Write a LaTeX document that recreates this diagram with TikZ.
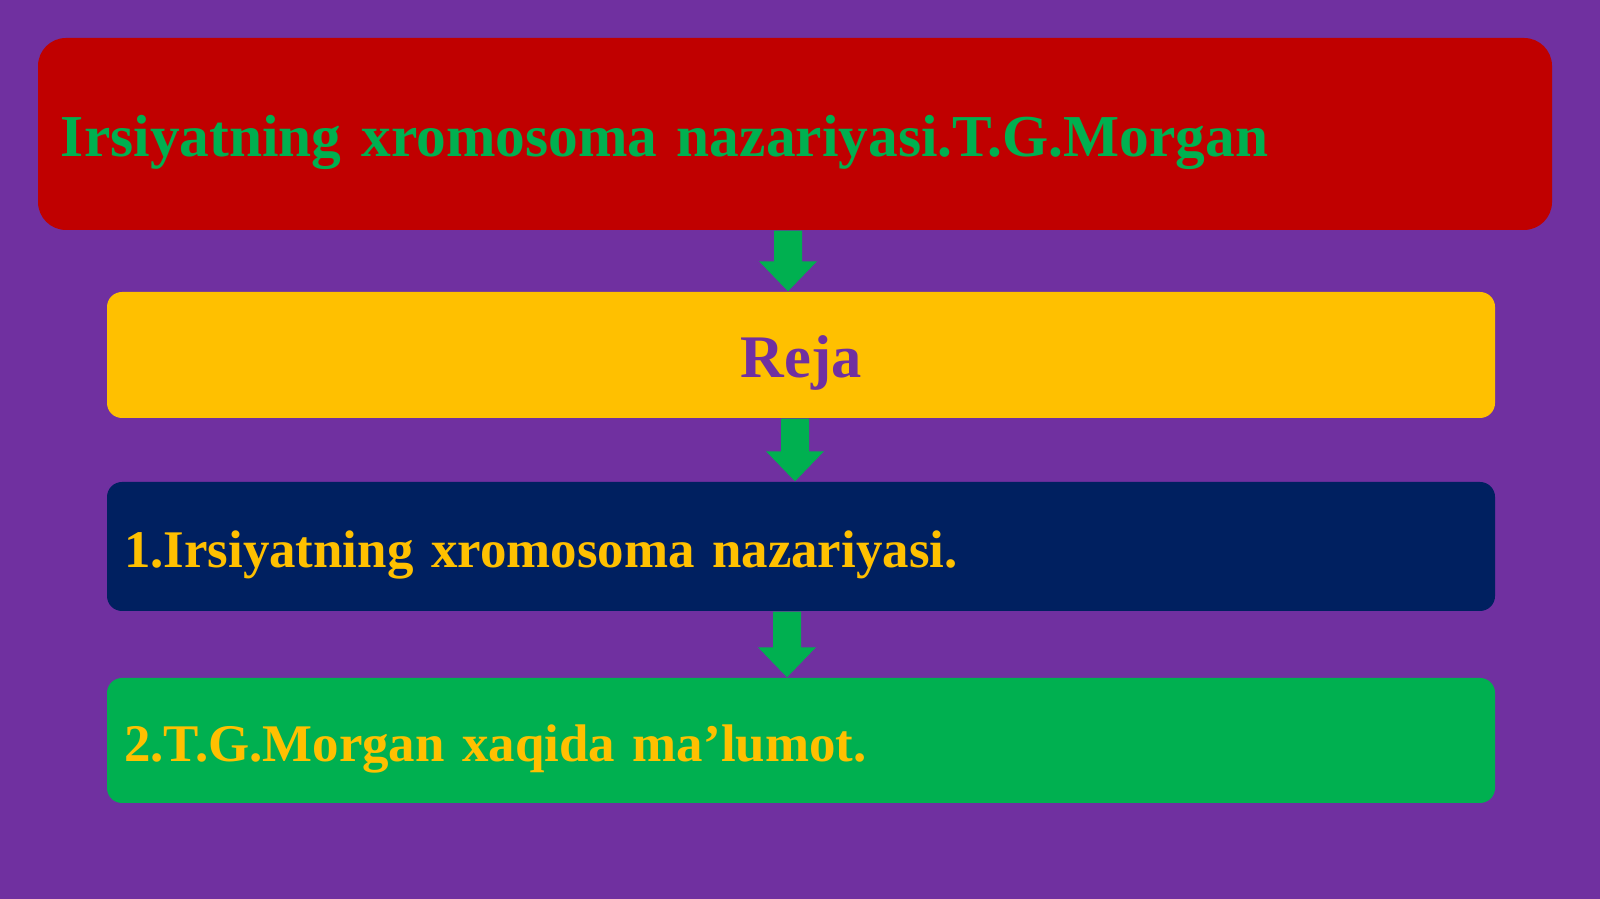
\documentclass[tikz,border=0pt]{standalone}
\usepackage{fontspec}
\setmainfont{Liberation Serif}
\usetikzlibrary{calc, positioning}

\definecolor{bgpurple}{HTML}{7030A0}
\definecolor{boxred}{HTML}{C00000}
\definecolor{boxyellow}{HTML}{FFC000}
\definecolor{boxnavy}{HTML}{002060}
\definecolor{boxgreen}{HTML}{00B050}

% block arrow pointing down, from #1 to the level of #2
\newcommand{\blockdown}[2]{%
  \fill[boxgreen] ($(#1)+(-0.14,0)$) -- ($(#1)+(0.14,0)$)
    -- ($(#1 |- #2)+(0.14,0.30)$) -- ($(#1 |- #2)+(0.29,0.30)$)
    -- (#1 |- #2) -- ($(#1 |- #2)+(-0.29,0.30)$)
    -- ($(#1 |- #2)+(-0.14,0.30)$) -- cycle;}

\begin{document}
\begin{tikzpicture}
  [
    every node/.style = {font=\bfseries},
    stepbox/.style = {rounded corners=0.15cm, minimum width=13.88cm,
      inner xsep=0.17cm, text width=13.54cm, align=left,
      text height=0.52cm, text depth=0.09cm,
      font=\fontsize{15.05}{18}\selectfont\bfseries}
  ]
  \fill[bgpurple] (0,0) rectangle (16,-8.99);
  \useasboundingbox (0,0) rectangle (16,-8.99);

  \node[fill=boxred, rounded corners=0.28cm, minimum width=15.14cm,
    minimum height=1.92cm, inner xsep=0.23cm, text width=14.68cm,
    text height=0.55cm, text depth=0.09cm,
    align=left, text=boxgreen, font=\fontsize{16.9}{20}\selectfont\bfseries]
    (Title) at (7.95,-1.34) {Irsiyatning xromosoma nazariyasi.T.G.Morgan};
  \node[stepbox, fill=boxyellow, minimum height=1.26cm, align=center,
    text height=0.55cm, font=\fontsize{17.2}{20}\selectfont\bfseries,
    text=bgpurple] (Plan) at (8.01,-3.55) {Reja};
  \node[stepbox, fill=boxnavy, minimum height=1.29cm, text=boxyellow]
    (One) at (8.01,-5.465) {1.Irsiyatning xromosoma nazariyasi.};
  \node[stepbox, fill=boxgreen, minimum height=1.25cm, text=boxyellow]
    (Two) at (8.01,-7.405) {2.T.G.Morgan xaqida ma’lumot.};

  % arrows
  \coordinate (A1) at ([xshift=-0.07cm]Title.south);
  \coordinate (A2) at ([xshift=-0.06cm]Plan.south);
  \coordinate (A3) at ([xshift=-0.14cm]One.south);
  \blockdown{A1}{Plan.north}
  \blockdown{A2}{One.north}
  \blockdown{A3}{Two.north}
\end{tikzpicture}
\end{document}
